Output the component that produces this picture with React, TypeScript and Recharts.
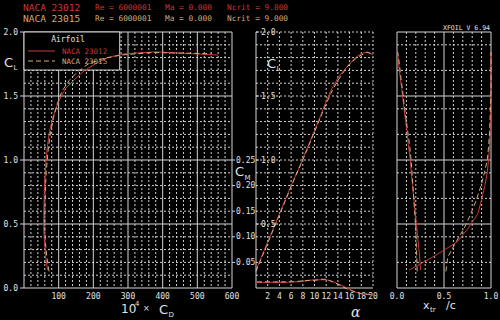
import React from "react";
import { LineChart, Line, XAxis, YAxis, CartesianGrid, ReferenceArea } from "recharts";

// operating points, alpha in degrees
const ALPHA = [0, 1, 2, 3, 4, 5, 6, 7, 8, 9, 10, 11, 12, 13, 14, 15, 16, 17, 18, 19, 20];

// NACA 23012
const CL_23012 = [0.14, 0.25, 0.36, 0.47, 0.58, 0.69, 0.8, 0.9, 1.01, 1.12, 1.23, 1.34, 1.46, 1.56, 1.64, 1.7, 1.75, 1.8, 1.83, 1.845, 1.82];
const CD_23012 = [68, 62, 59, 57, 57, 58, 59, 61, 64, 68, 74, 84, 100, 120, 150, 175, 205, 240, 290, 380, 560];
const CM_23012 = [0.011, 0.011, 0.011, 0.011, 0.011, 0.011, 0.012, 0.012, 0.013, 0.015, 0.016, 0.016, 0.016, 0.013, 0.008, 0.003, -0.003, -0.008, -0.011, -0.013, -0.014];
const XTR_TOP_23012 = [0.25, 0.24, 0.225, 0.21, 0.195, 0.18, 0.165, 0.152, 0.14, 0.12, 0.105, 0.085, 0.065, 0.05, 0.035, 0.025, 0.018, 0.01, 0.006, 0.004, 0.003];
const XTR_BOT_23012 = [0.13, 0.4, 0.64, 0.76, 0.86, 0.9, 0.935, 0.96, 0.975, 0.985, 0.99, 0.995, 1, 1, 1, 1, 1, 1, 1, 1, 1];

// NACA 23015
const CL_23015 = [0.13, 0.24, 0.35, 0.46, 0.57, 0.68, 0.79, 0.9, 1.0, 1.11, 1.22, 1.33, 1.44, 1.54, 1.62, 1.69, 1.75, 1.79, 1.82, 1.84, 1.83];
const CD_23015 = [72, 66, 62, 60, 60, 61, 62, 64, 67, 71, 77, 85, 96, 110, 130, 155, 185, 225, 280, 370, 540];
const CM_23015 = [0.012, 0.012, 0.012, 0.012, 0.012, 0.012, 0.012, 0.013, 0.014, 0.015, 0.015, 0.017, 0.017, 0.012, 0.007, 0.001, -0.004, -0.008, -0.011, -0.012, -0.013];
const XTR_TOP_23015 = [0.215, 0.21, 0.205, 0.2, 0.19, 0.18, 0.17, 0.16, 0.15, 0.135, 0.115, 0.095, 0.075, 0.06, 0.045, 0.035, 0.025, 0.018, 0.012, 0.008, 0.006];
const XTR_BOT_23015 = [0.52, 0.54, 0.62, 0.71, 0.78, 0.84, 0.89, 0.93, 0.96, 0.975, 0.985, 0.99, 0.995, 1, 1, 1, 1, 1, 1, 1, 1];

// axis ticks and grid values
const CL_TICKS = [0, 0.5, 1, 1.5, 2];
const CL_TICKS_ALPHA = [0.5, 1, 1.5, 2];
const CL_MINOR = [0.1, 0.2, 0.3, 0.4, 0.6, 0.7, 0.8, 0.9, 1.1, 1.2, 1.3, 1.4, 1.6, 1.7, 1.8, 1.9];
const CL_ALL = [0.1, 0.2, 0.3, 0.4, 0.5, 0.6, 0.7, 0.8, 0.9, 1, 1.1, 1.2, 1.3, 1.4, 1.5, 1.6, 1.7, 1.8, 1.9, 2];
const CD_TICKS = [100, 200, 300, 400, 500, 600];
const CD_MAJOR = [0, 100, 200, 300, 400, 500, 600];
const CD_MINOR = [20, 40, 60, 80, 120, 140, 160, 180, 220, 240, 260, 280, 320, 340, 360, 380, 420, 440, 460, 480, 520, 540, 560, 580];
const ALPHA_TICKS = [2, 4, 6, 8, 10, 12, 14, 16, 18, 20];
const CM_TICKS = [0.05, 0.1, 0.15, 0.2, 0.25];
const XTR_TICKS = [0, 0.5, 1];
const XTR_MINOR = [0.1, 0.2, 0.3, 0.4, 0.6, 0.7, 0.8, 0.9];

const RED = "#c83838";
const TAN = "#d4aa7c";
const FRAME = "#d4d4d4";
const GRID = "#cfcfcf";
const TXT = "#e2e2e2";
const MONO = "'DejaVu Sans Mono', monospace";
const SANS = "'DejaVu Sans', sans-serif";
const DOTS = "2 2";
const DASH = "5 3";

const W = 500;
const H = 320;
const CM_X = 232;

const pts = (xs: number[], ys: number[]) => xs.map((x, i) => ({ x, y: ys[i] }));

const tickStyle = { fill: TXT, fontSize: 8, fontFamily: MONO };

function Layer({ children }: { children: React.ReactNode }) {
  return <div style={{ position: "absolute", left: 0, top: 0 }}>{children}</div>;
}

function CmTick(props: any) {
  const { y, payload } = props;
  return (
    <g>
      <line x1={CM_X} x2={CM_X + 3} y1={y} y2={y} stroke={FRAME} />
      <text x={CM_X + 4} y={y} dominantBaseline="central" fill={TXT} fontSize={8} fontFamily={MONO}>
        {payload.value.toFixed(2)}
      </text>
    </g>
  );
}

function line(data: { x: number; y: number }[], color: string, dashed: boolean, key: string) {
  return (
    <Line
      key={key}
      data={data}
      dataKey="y"
      type="linear"
      stroke={color}
      strokeWidth={1}
      strokeDasharray={dashed ? DASH : undefined}
      dot={false}
      isAnimationActive={false}
    />
  );
}

export default function App() {
  return (
    <div style={{ position: "absolute", left: 0, top: 0, width: W, height: H, background: "#000", overflow: "hidden" }}>
      {/* drag polar */}
      <Layer>
        <LineChart width={W} height={H} margin={{ top: 32, left: 23, right: 268, bottom: 31 }}>
          <CartesianGrid stroke={GRID} strokeDasharray={DOTS} horizontalValues={CL_MINOR} verticalValues={CD_MINOR} />
          <CartesianGrid stroke={FRAME} horizontalValues={CL_TICKS} verticalValues={CD_MAJOR} />
          <XAxis type="number" dataKey="x" domain={[0, 600]} ticks={CD_TICKS} interval={0} height={1}
            axisLine={false} tickLine={false} tickSize={0} tickMargin={5} tick={tickStyle} />
          <YAxis type="number" domain={[0, 2]} ticks={CL_TICKS} interval={0} width={1} axisLine={false}
            tickLine={{ stroke: FRAME }} tickSize={4} tickMargin={2} tick={tickStyle}
            tickFormatter={(v: number) => v.toFixed(1)} />
          <ReferenceArea x1={0} x2={276} y1={1.703} y2={2} fill="#000" fillOpacity={1} stroke={FRAME} />
          {line(pts(CD_23012, CL_23012), RED, false, "a")}
          {line(pts(CD_23015, CL_23015), TAN, true, "b")}
        </LineChart>
      </Layer>

      {/* CL vs alpha */}
      <Layer>
        <LineChart width={W} height={H} margin={{ top: 32, left: 256, right: 127, bottom: 31 }}>
          <CartesianGrid stroke={GRID} strokeDasharray={DOTS} horizontalValues={CL_ALL} verticalValues={ALPHA_TICKS} />
          <XAxis type="number" dataKey="x" domain={[0, 20]} ticks={ALPHA_TICKS} interval={0} height={1}
            axisLine={{ stroke: FRAME }} tickLine={false} tickSize={0} tickMargin={5} tick={tickStyle} />
          <YAxis type="number" domain={[0, 2]} ticks={CL_TICKS_ALPHA} interval={0} width={1} mirror
            axisLine={{ stroke: FRAME }} tickLine={{ stroke: FRAME }} tickSize={3} tickMargin={2} tick={tickStyle}
            tickFormatter={(v: number) => v.toFixed(1)} />
          {line(pts(ALPHA, CL_23012), RED, false, "a")}
          {line(pts(ALPHA, CL_23015), TAN, true, "b")}
        </LineChart>
      </Layer>

      {/* CM vs alpha */}
      <Layer>
        <LineChart width={W} height={H} margin={{ top: 160, left: 256, right: 127, bottom: 6.4 }}>
          <XAxis type="number" dataKey="x" domain={[0, 20]} hide />
          <YAxis type="number" domain={[-0.05, 0.25]} ticks={CM_TICKS} interval={0} width={1}
            axisLine={false} tickLine={false} tick={<CmTick />} />
          {line(pts(ALPHA, CM_23012), RED, false, "a")}
          {line(pts(ALPHA, CM_23015), TAN, true, "b")}
        </LineChart>
      </Layer>

      {/* transition location */}
      <Layer>
        <LineChart width={W} height={H} margin={{ top: 32, left: 397, right: 9, bottom: 31 }}>
          <CartesianGrid stroke={GRID} strokeDasharray={DOTS} horizontalValues={CL_MINOR} verticalValues={XTR_MINOR} />
          <CartesianGrid stroke={FRAME} horizontalValues={CL_TICKS} verticalValues={XTR_TICKS} />
          <XAxis type="number" dataKey="x" domain={[0, 1]} ticks={XTR_TICKS} interval={0} height={1}
            axisLine={false} tickLine={false} tickSize={0} tickMargin={5} tick={tickStyle}
            tickFormatter={(v: number) => v.toFixed(1)} />
          <YAxis type="number" domain={[0, 2]} hide />
          {line(pts(XTR_TOP_23012, CL_23012), RED, false, "a")}
          {line(pts(XTR_BOT_23012, CL_23012), RED, false, "b")}
          {line(pts(XTR_TOP_23015, CL_23015), TAN, true, "c")}
          {line(pts(XTR_BOT_23015, CL_23015), TAN, true, "d")}
        </LineChart>
      </Layer>

      {/* titles, legend text, axis labels */}
      <svg width={W} height={H} style={{ position: "absolute", left: 0, top: 0, pointerEvents: "none" }}>
        <g fontFamily={MONO} dominantBaseline="central">
          <text x={23} y={7} fill={RED} fontSize={9.5}>NACA 23012</text>
          <text x={95} y={7} fill={RED} fontSize={7.8}>Re = 6000001</text>
          <text x={165} y={7} fill={RED} fontSize={7.8}>Ma = 0.000</text>
          <text x={227} y={7} fill={RED} fontSize={7.8}>Ncrit = 9.000</text>
          <text x={23} y={18} fill={TAN} fontSize={9.5}>NACA 23015</text>
          <text x={95} y={18} fill={TAN} fontSize={7.8}>Re = 6000001</text>
          <text x={165} y={18} fill={TAN} fontSize={7.8}>Ma = 0.000</text>
          <text x={227} y={18} fill={TAN} fontSize={7.8}>Ncrit = 9.000</text>
          <text x={443} y={27.5} fill={TXT} fontSize={6.5}>XFOIL V 6.94</text>

          <text x={68} y={39} fill={TXT} fontSize={8} textAnchor="middle">Airfoil</text>
          <text x={62} y={51} fill={RED} fontSize={7.5}>NACA 23012</text>
          <text x={62} y={61} fill={TAN} fontSize={7.5}>NACA 23015</text>
        </g>
        <line x1={28} x2={55} y1={51} y2={51} stroke={RED} />
        <line x1={28} x2={55} y1={61} y2={61} stroke={TAN} strokeDasharray={DASH} />

        <g fontFamily={SANS} fill={TXT}>
          <text x={4} y={67} fontSize={13}>C</text>
          <text x={13.5} y={70} fontSize={7}>L</text>

          <text x={267} y={68} fontSize={13}>C</text>
          <text x={276.5} y={71} fontSize={7}>L</text>

          <text x={235} y={176} fontSize={13}>C</text>
          <text x={244.5} y={180} fontSize={7}>M</text>

          <text x={121} y={313} fontSize={12}>10</text>
          <text x={135} y={306} fontSize={7}>4</text>
          <text x={143} y={311} fontSize={8}>×</text>
          <text x={159} y={314} fontSize={13}>C</text>
          <text x={168.5} y={317} fontSize={7}>D</text>

          <text x={351} y={317} fontSize={14} fontStyle="italic" fontFamily="'DejaVu Serif', serif">α</text>

          <text x={423} y={309} fontSize={11}>x</text>
          <text x={430} y={312} fontSize={7}>tr</text>
          <text x={446} y={309} fontSize={11}>/c</text>
        </g>
      </svg>
    </div>
  );
}
